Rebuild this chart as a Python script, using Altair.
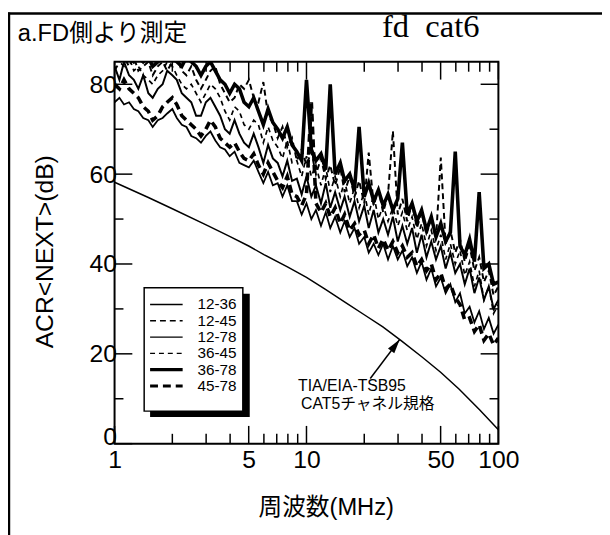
import altair as alt
import pandas as pd

# ---------------- data ----------------
freq = [1.00, 1.06, 1.12, 1.19, 1.26, 1.33, 1.41, 1.50, 1.58, 1.68,
        1.78, 1.88, 2.00, 2.11, 2.24, 2.37, 2.51, 2.66, 2.82, 2.99,
        3.16, 3.35, 3.55, 3.76, 3.98, 4.22, 4.47, 4.73, 5.01, 5.31,
        5.62, 5.96, 6.31, 6.68, 7.08, 7.50, 7.94, 8.41, 8.91, 9.44,
        10.0, 10.6, 11.2, 11.9, 12.6, 13.3, 14.1, 15.0, 15.8, 16.8,
        17.8, 18.8, 20.0, 21.1, 22.4, 23.7, 25.1, 26.6, 28.2, 29.9,
        31.6, 33.5, 35.5, 37.6, 39.8, 42.2, 44.7, 47.3, 50.1, 53.1,
        56.2, 59.6, 63.1, 66.8, 70.8, 75.0, 79.4, 84.1, 89.1, 94.4,
        100.0]

s_12_36 = [84, 81, 85, 82, 81, 79, 82, 78, 77, 79,
           80, 83, 82, 81, 78, 77, 76, 73, 73, 76,
           77, 75, 73, 70, 69, 72, 69, 67, 66, 69,
           66, 62.5, 66.5, 63.5, 62.5, 59.5, 63, 58.5, 59, 55.5,
           59.5, 55, 57.5, 53.5, 58, 52.5, 56, 52, 55, 50.5,
           54, 49.5, 53, 48, 52, 47, 50, 46.5, 50.5, 45,
           48.5, 44.5, 48, 42.5, 46.5, 41.5, 45, 41, 44, 39,
           42.5, 38, 40, 35.5, 39, 33.5, 37, 32, 35, 30,
           32]
s_12_45 = [83, 85, 86, 84, 86, 83, 84, 85, 82, 84,
           85, 83, 85, 86, 83, 82, 84, 81, 79, 81,
           83, 84, 80, 78, 76, 77, 80, 79, 81, 77,
           76, 80.5, 73, 71.5, 68, 70.5, 66, 68, 63, 65.5,
           62, 65, 60, 63.5, 59, 62, 57.5, 61.5, 56, 59.5,
           55, 58.5, 53.5, 64.8, 53, 56.5, 51.5, 55.5, 69.6, 51,
           54.5, 49.5, 53.5, 48, 51.5, 46.5, 50.5, 45.5, 63.7, 44.5,
           47.5, 42.5, 45.5, 40.5, 44, 38.5, 41.5, 36, 38.5, 33,
           35]
s_12_78 = [76, 77, 75.5, 76, 74.5, 74, 72.5, 72, 70.5, 72,
           72.5, 73.5, 74.5, 72.5, 71, 70.5, 68.5, 68, 67, 68.5,
           69.5, 67.5, 66, 65.5, 64, 65, 62.5, 62, 61.5, 63,
           60.5, 58, 60.5, 57.5, 58, 55, 57.5, 54, 54, 51,
           53.5, 50, 52, 48.5, 51.5, 48, 50.5, 47, 49.5, 46,
           48, 44.5, 46, 42.5, 44.5, 42, 44.5, 41, 44, 41,
           43, 39.5, 41.5, 38, 40.5, 36.5, 39, 35, 37, 33.5,
           35.5, 31.5, 33.5, 29, 30.5, 27, 29.5, 25.5, 28, 24.5,
           26.5]
s_36_45 = [86, 85, 84, 86, 83, 84, 82, 81, 80, 82,
           83, 85, 84, 82, 80, 79, 80, 78, 76, 78,
           80, 79, 77, 74, 72, 75, 74, 71, 70, 72,
           71, 67, 70.5, 67.5, 66, 63.5, 67.5, 62.5, 63, 59.5,
           64, 59.5, 62, 57.5, 61.5, 56, 59.5, 55, 58.5, 53.5,
           57, 52.5, 56, 51, 55.5, 50, 53, 49.5, 52.5, 48.5,
           51.5, 47.5, 50.5, 45.5, 49, 44, 47.5, 43, 46.5, 41,
           44.5, 40, 43, 37.5, 40.5, 35, 38.5, 32, 35, 29,
           31]
s_36_78 = [86, 86, 86, 86, 85, 86, 85, 86, 84, 85,
           86, 86, 86, 85, 84, 86, 85, 84, 82, 84,
           85, 83, 81, 80, 78, 80, 79, 76, 75, 77,
           74, 71, 74.5, 71.5, 70, 68, 70.5, 66.5, 65, 63,
           81, 65.5, 63, 64.5, 61, 80, 60, 62.5, 58.5, 60,
           56.5, 70.5, 55, 58, 54, 56.5, 53, 55.5, 52, 54.5,
           67, 51, 53.5, 49.5, 52, 47.5, 50.5, 46, 49, 45,
           47, 65, 44, 42, 45.5, 40.5, 56, 39, 40, 35.5,
           36]
s_45_78 = [80, 79, 81, 79, 78, 77, 75, 74, 72, 73,
           75, 76, 77, 75.5, 73, 72, 71, 70, 68.5, 70,
           72, 70.5, 68, 67, 66, 67, 65, 63.5, 63, 64.5,
           62, 60, 62.5, 60.5, 58.5, 57, 59.5, 55.5, 55, 53,
           55.5, 76, 53.5, 51.5, 53.5, 50.5, 52.5, 49, 51, 47.5,
           49, 46.5, 47.5, 44.5, 46.5, 43.5, 45.5, 43, 45, 42.5,
           44, 41.5, 42.5, 39.5, 41, 38.5, 40, 36.5, 38, 34.5,
           35.5, 32.5, 31, 27.5, 28, 25, 26.5, 23, 24.5, 22,
           23.5]

series_names = ["12-36", "12-45", "12-78", "36-45", "36-78", "45-78"]
series_values = [s_12_36, s_12_45, s_12_78, s_36_45, s_36_78, s_45_78]

# TIA/EIA-TSB95 CAT5 channel ACR limit
cat5_freq = [1, 1.5, 2, 3, 4, 5, 6, 8, 10, 12.5, 16, 20, 25, 31.25, 40, 50, 62.5, 80, 100]
cat5_acr = [58.2, 54.8, 52.3, 48.7, 46.1, 44.0, 42.1, 39.3, 37.0, 34.4, 31.4,
            28.7, 26.0, 22.9, 19.3, 15.9, 12.1, 7.5, 3.1]

x_major = [1, 5, 10, 50, 100]
x_minor = [2, 3, 4, 6, 7, 8, 9, 20, 30, 40, 60, 70, 80, 90]
y_major = [0, 20, 40, 60, 80]
y_minor = [10, 30, 50, 70]

annot_lines = ["TIA/EIA-TSB95", "CAT5チャネル規格"]
arrow_tip = (30.6, 23.2)
arrow_tail = (21.5, 14.5)

# ---------------- styling ----------------
W, H = 389, 387
FONT = "Liberation Sans, Noto Sans CJK JP"
line_styles = {
    "12-36": dict(strokeWidth=2.0),
    "12-45": dict(strokeWidth=2.0, strokeDash=[6, 4]),
    "12-78": dict(strokeWidth=1.8),
    "36-45": dict(strokeWidth=1.7, strokeDash=[5, 4]),
    "36-78": dict(strokeWidth=3.6),
    "45-78": dict(strokeWidth=3.6, strokeDash=[8, 5]),
}
legend_styles = {
    "12-36": dict(strokeWidth=1.5),
    "12-45": dict(strokeWidth=1.5, strokeDash=[6, 4]),
    "12-78": dict(strokeWidth=1.4),
    "36-45": dict(strokeWidth=1.2, strokeDash=[5, 4]),
    "36-78": dict(strokeWidth=3.2),
    "45-78": dict(strokeWidth=3.2, strokeDash=[8, 5]),
}

rows = []
for name, vals in zip(series_names, series_values):
    assert len(vals) == len(freq), name
    for f, v in zip(freq, vals):
        rows.append({"series": name, "f": f, "v": v})
df = pd.DataFrame(rows)

xs = alt.Scale(type="log", domain=[1, 100])
ys = alt.Scale(domain=[0, 85])

axis_x = alt.Axis(values=x_major, format="~g", labelFont=FONT, labelFontSize=25,
                  labelColor="black", labelPadding=4, ticks=False, tickSize=0,
                  domain=False, grid=False, labelFlush=False, labelOverlap=False,
                  title="周波数(MHz)", titleFont=FONT, titleFontSize=24,
                  titleFontWeight="normal", titleColor="black",
                  titleX=214, titleY=65, titleAlign="center", titleBaseline="middle")
axis_y = alt.Axis(values=y_major, format="d", labelFont=FONT, labelFontSize=25,
                  labelColor="black", labelPadding=-2, ticks=False, tickSize=0,
                  domain=False, grid=False, labelFlush=False, labelOverlap=False,
                  labelOffset={"condition": {"test": "datum.value == 0", "value": -7},
                               "value": 0},
                  title="ACR<NEXT>(dB)", titleFont=FONT, titleFontSize=25,
                  titleFontWeight="normal", titleColor="black", titleAngle=270,
                  titleX=-71, titleY=192, titleAlign="center", titleBaseline="middle")


def X(field):
    return alt.X(field, scale=xs, axis=axis_x)


def Y(field):
    return alt.Y(field, scale=ys, axis=axis_y)


layers = []
for name in series_names:
    st = line_styles[name]
    layers.append(
        alt.Chart(df).transform_filter(alt.datum.series == name)
        .mark_line(color="black", clip=True, **st)
        .encode(x=X("f:Q"), y=Y("v:Q"), order="f:Q")
    )

cat5_df = pd.DataFrame({"f": cat5_freq, "v": cat5_acr})
layers.append(alt.Chart(cat5_df).mark_line(color="black", strokeWidth=1.5)
              .encode(x=X("f:Q"), y=Y("v:Q")))


# inward ticks
def xticks(vals, length):
    d = pd.DataFrame({"f": vals})
    b = alt.Chart(d).mark_rule(color="black", strokeWidth=1.5).encode(
        x=X("f:Q"), y=alt.value(H), y2=alt.value(H - length))
    t = alt.Chart(d).mark_rule(color="black", strokeWidth=1.5).encode(
        x=X("f:Q"), y=alt.value(0), y2=alt.value(length))
    return [b, t]


def yticks(vals, length):
    d = pd.DataFrame({"v": vals})
    l = alt.Chart(d).mark_rule(color="black", strokeWidth=1.5).encode(
        y=Y("v:Q"), x=alt.value(0), x2=alt.value(length))
    r = alt.Chart(d).mark_rule(color="black", strokeWidth=1.5).encode(
        y=Y("v:Q"), x=alt.value(W), x2=alt.value(W - length))
    return [l, r]


layers += xticks(x_major, 18) + xticks(x_minor, 10) + yticks(y_major, 18) + yticks(y_minor, 9)

one = pd.DataFrame({"a": [0]})
# outer figure frame
layers.append(alt.Chart(one).mark_rule(color="black", strokeWidth=2.5).encode(
    x=alt.value(-108), x2=alt.value(500), y=alt.value(-49)))
layers.append(alt.Chart(one).mark_rule(color="black", strokeWidth=2.5).encode(
    x=alt.value(-107), y=alt.value(-50), y2=alt.value(480)))

# titles
layers.append(alt.Chart(pd.DataFrame({"t": ["a.FD側より測定"]})).mark_text(
    font=FONT, fontSize=24, align="left", baseline="middle", color="black").encode(
    text="t:N", x=alt.value(-98), y=alt.value(-28)))
layers.append(alt.Chart(pd.DataFrame({"t": ["fd\u00a0 cat6"]})).mark_text(
    font="Liberation Serif", fontSize=33, align="left", baseline="alphabetic", color="black").encode(
    text="t:N", x=alt.value(271), y=alt.value(-25)))

# legend (shadow + box + entries)
layers.append(alt.Chart(one).mark_rect(color="black").encode(
    x=alt.value(36), x2=alt.value(137), y=alt.value(235), y2=alt.value(360)))
layers.append(alt.Chart(one).mark_rect(fill="white", stroke="black", strokeWidth=1.5).encode(
    x=alt.value(30), x2=alt.value(130), y=alt.value(229), y2=alt.value(354)))
for i, name in enumerate(series_names):
    yy = 246 + i * 16.5
    st = legend_styles[name]
    layers.append(alt.Chart(one).mark_rule(color="black", **st).encode(
        x=alt.value(36), x2=alt.value(69), y=alt.value(yy)))
    layers.append(alt.Chart(pd.DataFrame({"t": [name]})).mark_text(
        font=FONT, fontSize=15.5, align="left", baseline="middle", color="black").encode(
        text="t:N", x=alt.value(84), y=alt.value(yy)))

# annotation
arrow_df = pd.DataFrame({"f": [arrow_tail[0]], "v": [arrow_tail[1]],
                         "f2": [arrow_tip[0]], "v2": [arrow_tip[1]]})
layers.append(alt.Chart(arrow_df).mark_rule(color="black", strokeWidth=1.5).encode(
    x=X("f:Q"), y=Y("v:Q"), x2="f2:Q", y2="v2:Q"))
layers.append(alt.Chart(arrow_df).mark_point(
    shape="M0,0L0.5,1.8L-0.5,1.8Z", filled=True, size=256, angle=37,
    color="black", opacity=1).encode(x=X("f2:Q"), y=Y("v2:Q")))
layers.append(alt.Chart(pd.DataFrame({"t": [annot_lines[0]]})).mark_text(
    font=FONT, fontSize=16, align="left", baseline="middle", color="black").encode(
    text="t:N", x=alt.value(186), y=alt.value(329)))
layers.append(alt.Chart(pd.DataFrame({"t": [annot_lines[1]]})).mark_text(
    font=FONT, fontSize=16, align="left", baseline="middle", color="black").encode(
    text="t:N", x=alt.value(189), y=alt.value(347)))

chart = alt.layer(*layers).properties(
    width=W, height=H,
    autosize=alt.AutoSizeParams(type="none"),
    padding={"left": 108, "top": 51, "right": 105, "bottom": 89},
).configure_view(stroke="black", strokeWidth=2)

chart.save("out.html", embed_options={"renderer": "svg", "actions": False})
